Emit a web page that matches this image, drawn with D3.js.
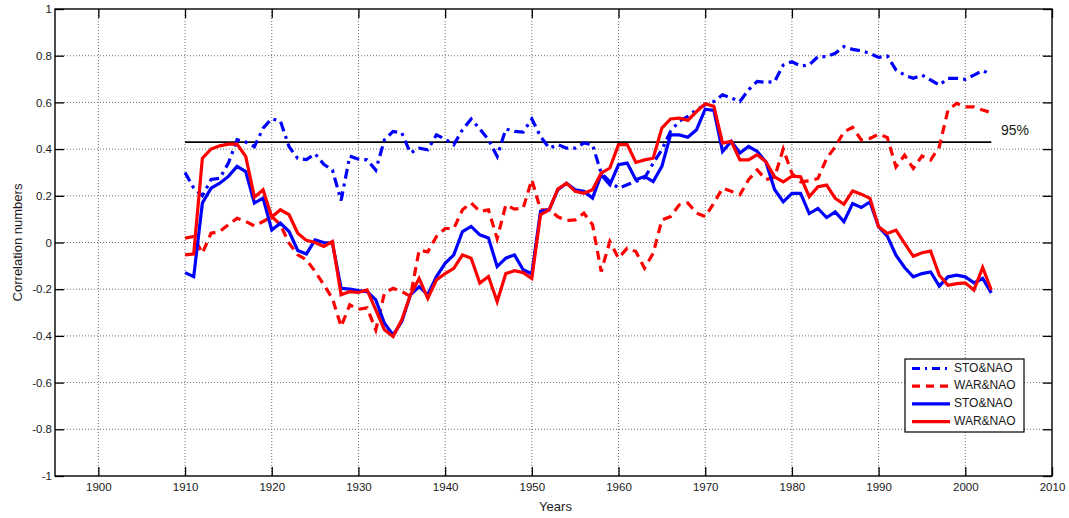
<!DOCTYPE html>
<html>
<head>
<meta charset="utf-8">
<script src="https://cdn.jsdelivr.net/npm/d3@7"></script>
<style>
  html, body { margin: 0; padding: 0; background: #fff; }
  svg { display: block; font-family: "Liberation Sans", Arial, sans-serif; }
</style>
</head>
<body>
<svg id="chart" width="1069" height="518"></svg>
<script>
// ---------- DATA ----------
const firstYear = 1910;
const lastYear = 2003;
const years = d3.range(firstYear, lastYear + 1);

const xTicks = [1900, 1910, 1920, 1930, 1940, 1950, 1960, 1970, 1980, 1990, 2000, 2010];
const yTicks = [-1, -0.8, -0.6, -0.4, -0.2, 0, 0.2, 0.4, 0.6, 0.8, 1];
const yTickLabels = ["-1", "-0.8", "-0.6", "-0.4", "-0.2", "0", "0.2", "0.4", "0.6", "0.8", "1"];

const seriesNames = ["STO&NAO", "WAR&NAO", "STO&NAO", "WAR&NAO"];
const threshold95 = 0.43;
const thresholdLabel = "95%";

// STO&NAO dash-dot (blue)
const stoDashDot = [
  0.30, 0.233, 0.20, 0.27, 0.275, 0.34, 0.44, 0.43, 0.41, 0.49,
  0.53, 0.52, 0.41, 0.36, 0.355, 0.38, 0.335, 0.31, 0.18, 0.37,
  0.357, 0.354, 0.31, 0.44, 0.476, 0.469, 0.383, 0.404, 0.397, 0.461,
  0.443, 0.419, 0.483, 0.529, 0.486, 0.44, 0.369, 0.486, 0.476, 0.473,
  0.529, 0.454, 0.404, 0.419, 0.404, 0.404, 0.426, 0.419, 0.297, 0.261,
  0.233, 0.247, 0.261, 0.276, 0.34, 0.397, 0.476, 0.519, 0.54, 0.569,
  0.59, 0.604, 0.633, 0.619, 0.604, 0.654, 0.69, 0.686, 0.689, 0.76,
  0.774, 0.756, 0.76, 0.796, 0.796, 0.81, 0.839, 0.827, 0.821, 0.81,
  0.793, 0.799, 0.739, 0.717, 0.703, 0.717, 0.696, 0.674, 0.703, 0.703,
  0.699, 0.717, 0.736, 0.72
];

// WAR&NAO dashed (red)
const warDashed = [
  0.019, 0.026, -0.046, 0.04, 0.047, 0.076, 0.104, 0.09, 0.071, 0.09,
  0.111, 0.076, -0.003, -0.053, -0.074, -0.124, -0.181, -0.239, -0.36, -0.267,
  -0.286, -0.28, -0.374, -0.217, -0.196, -0.21, -0.231, -0.033, -0.04, 0.026,
  0.06, 0.06, 0.14, 0.169, 0.133, 0.14, 0.017, 0.161, 0.143, 0.147,
  0.269, 0.14, 0.14, 0.11, 0.094, 0.097, 0.126, 0.076, -0.124, 0.004,
  -0.067, -0.024, -0.039, -0.11, -0.046, 0.097, 0.111, 0.161, 0.169, 0.126,
  0.111, 0.169, 0.233, 0.219, 0.204, 0.269, 0.311, 0.269, 0.28, 0.40,
  0.296, 0.26, 0.264, 0.274, 0.36, 0.41, 0.474, 0.493, 0.439, 0.446,
  0.464, 0.45, 0.324, 0.374, 0.317, 0.37, 0.353, 0.41, 0.567, 0.596,
  0.581, 0.581, 0.567, 0.556
];

// STO&NAO solid (blue)
const stoSolid = [
  -0.129, -0.146, 0.169, 0.233, 0.254, 0.283, 0.326, 0.304, 0.169, 0.19,
  0.054, 0.083, 0.047, -0.034, -0.049, 0.011, 0.0, -0.003, -0.196, -0.2,
  -0.206, -0.21, -0.246, -0.346, -0.396, -0.339, -0.224, -0.189, -0.224, -0.146,
  -0.089, -0.053, 0.047, 0.069, 0.033, 0.019, -0.103, -0.067, -0.053, -0.117,
  -0.134, 0.133, 0.14, 0.226, 0.254, 0.226, 0.219, 0.19, 0.29, 0.247,
  0.333, 0.34, 0.269, 0.283, 0.261, 0.326, 0.461, 0.461, 0.451, 0.483,
  0.571, 0.566, 0.39, 0.433, 0.383, 0.411, 0.39, 0.345, 0.227, 0.174,
  0.21, 0.21, 0.124, 0.146, 0.107, 0.131, 0.089, 0.167, 0.15, 0.174,
  0.067, 0.027, -0.054, -0.107, -0.147, -0.133, -0.126, -0.187, -0.147, -0.14,
  -0.147, -0.173, -0.154, -0.216
];

// WAR&NAO solid (red)
const warSolid = [
  -0.053, -0.049, 0.361, 0.40, 0.414, 0.421, 0.421, 0.369, 0.194, 0.226,
  0.109, 0.14, 0.119, 0.04, 0.009, 0.0, -0.017, 0.004, -0.224, -0.21,
  -0.214, -0.203, -0.289, -0.374, -0.403, -0.331, -0.224, -0.154, -0.239, -0.16,
  -0.133, -0.111, -0.053, -0.067, -0.174, -0.146, -0.253, -0.133, -0.121, -0.129,
  -0.154, 0.119, 0.14, 0.229, 0.254, 0.219, 0.211, 0.226, 0.297, 0.319,
  0.419, 0.419, 0.343, 0.354, 0.361, 0.49, 0.529, 0.533, 0.523, 0.561,
  0.594, 0.583, 0.426, 0.433, 0.354, 0.354, 0.376, 0.346, 0.281, 0.26,
  0.284, 0.281, 0.196, 0.239, 0.246, 0.189, 0.164, 0.221, 0.207, 0.189,
  0.067, 0.039, 0.053, -0.004, -0.059, -0.044, -0.037, -0.14, -0.183, -0.176,
  -0.173, -0.204, -0.107, -0.204
];

// ---------- LAYOUT ----------
const L = 55, R = 1052, T = 9, B = 476;
const svg = d3.select("#chart");

const x = d3.scaleLinear().domain([1895, 2010]).range([L, R]);
const y = d3.scaleLinear().domain([-1, 1]).range([B, T]);

// grid
const grid = svg.append("g").attr("class", "grid");
grid.selectAll("line.vg").data(xTicks.filter(d => d > 1895 && d < 2010)).enter()
  .append("line").attr("class", "vg")
  .attr("x1", d => x(d)).attr("x2", d => x(d))
  .attr("y1", T).attr("y2", B)
  .attr("stroke", "#6e6e6e").attr("stroke-width", 1).attr("stroke-dasharray", "1,2");
grid.selectAll("line.hg").data(yTicks.filter(d => d > -1 && d < 1)).enter()
  .append("line").attr("class", "hg")
  .attr("x1", L).attr("x2", R)
  .attr("y1", d => y(d)).attr("y2", d => y(d))
  .attr("stroke", "#6e6e6e").attr("stroke-width", 1).attr("stroke-dasharray", "1,2");

// axes
const tickLen = 9;
const fmtY = d => yTickLabels[yTicks.indexOf(d)];

const gx = svg.append("g").attr("transform", `translate(0,${B})`)
  .call(d3.axisBottom(x).tickValues(xTicks).tickFormat(d3.format("d"))
    .tickSizeInner(-tickLen).tickSizeOuter(0).tickPadding(7));
const gy = svg.append("g").attr("transform", `translate(${L},0)`)
  .call(d3.axisLeft(y).tickValues(yTicks).tickFormat(fmtY)
    .tickSizeInner(-tickLen).tickSizeOuter(0).tickPadding(3));
const gt = svg.append("g").attr("transform", `translate(0,${T})`)
  .call(d3.axisTop(x).tickValues(xTicks).tickFormat("")
    .tickSizeInner(-tickLen).tickSizeOuter(0));
const gr = svg.append("g").attr("transform", `translate(${R},0)`)
  .call(d3.axisRight(y).tickValues(yTicks).tickFormat("")
    .tickSizeInner(-tickLen).tickSizeOuter(0));

[gx, gy, gt, gr].forEach(g => {
  g.select(".domain").remove();
  g.selectAll(".tick line").attr("stroke", "#000").attr("stroke-width", 1.3);
  g.selectAll("text").attr("font-size", "11.5px").attr("fill", "#1a1a1a")
    .attr("font-family", "'Liberation Sans', Arial, sans-serif");
});

// frame
svg.append("rect").attr("x", L).attr("y", T).attr("width", R - L).attr("height", B - T)
  .attr("fill", "none").attr("stroke", "#000").attr("stroke-width", 1.4);

// axis titles
svg.append("text").attr("x", (L + R) / 2 + 2).attr("y", 511)
  .attr("text-anchor", "middle").attr("font-size", "13px").attr("fill", "#1a1a1a")
  .text("Years");
svg.append("text").attr("transform", `translate(22,${(T + B) / 2}) rotate(-90)`)
  .attr("text-anchor", "middle").attr("font-size", "13px").attr("fill", "#1a1a1a")
  .text("Correlation numbers");

// 95% line
svg.append("line")
  .attr("x1", x(firstYear)).attr("x2", x(lastYear))
  .attr("y1", y(threshold95)).attr("y2", y(threshold95))
  .attr("stroke", "#000").attr("stroke-width", 1.6);
svg.append("text").attr("x", 1001).attr("y", 131).attr("dominant-baseline", "middle")
  .attr("font-size", "14px").attr("fill", "#1a1a1a").text(thresholdLabel);

// series
const line = d3.line().x((d, i) => x(years[i])).y(d => y(d));
const styles = [
  { data: stoDashDot, color: "#0000ff", dash: "10,5,3,5" },
  { data: warDashed, color: "#ff0000", dash: "9,6" },
  { data: stoSolid, color: "#0000ff", dash: null },
  { data: warSolid, color: "#ff0000", dash: null }
];
const plot = svg.append("g");
styles.forEach(s => {
  plot.append("path").datum(s.data)
    .attr("d", line)
    .attr("fill", "none")
    .attr("stroke", s.color)
    .attr("stroke-width", 3.2)
    .attr("stroke-dasharray", s.dash)
    .attr("stroke-linejoin", "miter");
});

// legend
const lg = svg.append("g");
lg.append("rect").attr("x", 905).attr("y", 359).attr("width", 119).attr("height", 73)
  .attr("fill", "#fff").attr("stroke", "#000").attr("stroke-width", 1.2);
const legendDash = ["8,5,2,5", "8,6", null, null];
seriesNames.forEach((name, i) => {
  const yy = 368.5 + i * 17.7;
  lg.append("line").attr("x1", 912).attr("x2", 950).attr("y1", yy).attr("y2", yy)
    .attr("stroke", styles[i].color).attr("stroke-width", 3.2)
    .attr("stroke-dasharray", legendDash[i]);
  lg.append("text").attr("x", 954).attr("y", yy).attr("dominant-baseline", "middle")
    .attr("font-size", "12px").attr("fill", "#1a1a1a").text(name);
});
</script>
</body>
</html>
